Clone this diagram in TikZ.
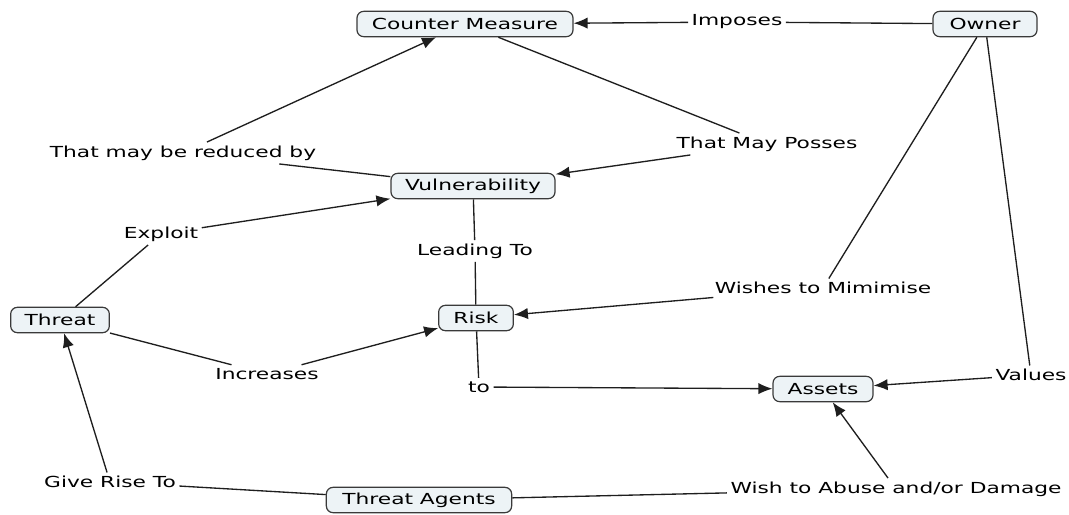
\documentclass[tikz,border=0pt]{standalone}
\usepackage{fontspec}
\setmainfont{DejaVu Sans}[FakeStretch=1.43]
\usetikzlibrary{arrows.meta}
\definecolor{boxfill}{HTML}{EDF3F6}
\definecolor{boxline}{HTML}{3A3A3A}
\definecolor{lnk}{HTML}{1E1E1E}
\tikzset{
  concept/.style={draw=boxline, fill=boxfill, line width=0.9pt, rounded corners=5pt,
    minimum height=19pt, inner xsep=8pt, inner ysep=0pt, font=\fontsize{11.4}{13}\selectfont},
  lbl/.style={inner sep=2.5pt, font=\fontsize{11.4}{13}\selectfont},
  link/.style={draw=lnk, line width=1pt},
  arr/.style={link, -{Latex[length=10.5pt,width=8.5pt]}}
}
\begin{document}
\begin{tikzpicture}[x=0.75pt,y=-0.75pt]
\useasboundingbox (0,0) rectangle (1069,514);
% concepts
\node[concept, minimum width=162pt] (cm) at (465,24) {Counter Measure};
\node[concept, minimum width=78pt] (owner) at (985,24) {Owner};
\node[concept, minimum width=123pt] (vuln) at (473,186) {Vulnerability};
\node[concept, minimum width=74pt] (threat) at (60,320) {Threat};
\node[concept, minimum width=56pt] (risk) at (476,318) {Risk};
\node[concept, minimum width=75pt] (assets) at (823,389) {Assets};
\node[concept, minimum width=139pt] (agents) at (419,500) {Threat Agents};
% linking phrases
\node[lbl] (imposes) at (737,22) {Imposes};
\node[lbl] (reduced) at (183,153) {That may be reduced by};
\node[lbl] (posses) at (767,144) {That May Posses};
\node[lbl] (exploit) at (161,234) {Exploit};
\node[lbl] (leading) at (475,251) {Leading To};
\node[lbl] (wishes) at (823,288) {Wishes to Mimimise};
\node[lbl] (increases) at (267,374) {Increases};
\node[lbl] (to) at (479,387) {to};
\node[lbl] (values) at (1031,375) {Values};
\node[lbl] (giverise) at (110,482) {Give Rise To};
\node[lbl] (wish) at (896,489) {Wish to Abuse and/or Damage};
% connectors
\draw[link] (owner) -- (imposes);
\draw[arr] (imposes) -- (cm);
\draw[link] (cm) -- (posses);
\draw[arr] (posses) -- (vuln);
\draw[link] (vuln) -- (reduced);
\draw[arr] (reduced) -- (cm);
\draw[link] (threat) -- (exploit);
\draw[arr] (exploit) -- (vuln);
\draw[link] (vuln) -- (leading);
\draw[link] (leading) -- (risk);
\draw[link] (owner) -- (wishes);
\draw[arr] (wishes) -- (risk);
\draw[link] (threat) -- (increases);
\draw[arr] (increases) -- (risk);
\draw[link] (risk) -- (to);
\draw[arr] (to) -- (assets);
\draw[link] (owner) -- (values);
\draw[arr] (values) -- (assets);
\draw[link] (agents) -- (giverise);
\draw[arr] (giverise) -- (threat);
\draw[link] (agents) -- (wish);
\draw[arr] (wish) -- (assets);
\end{tikzpicture}
\end{document}
